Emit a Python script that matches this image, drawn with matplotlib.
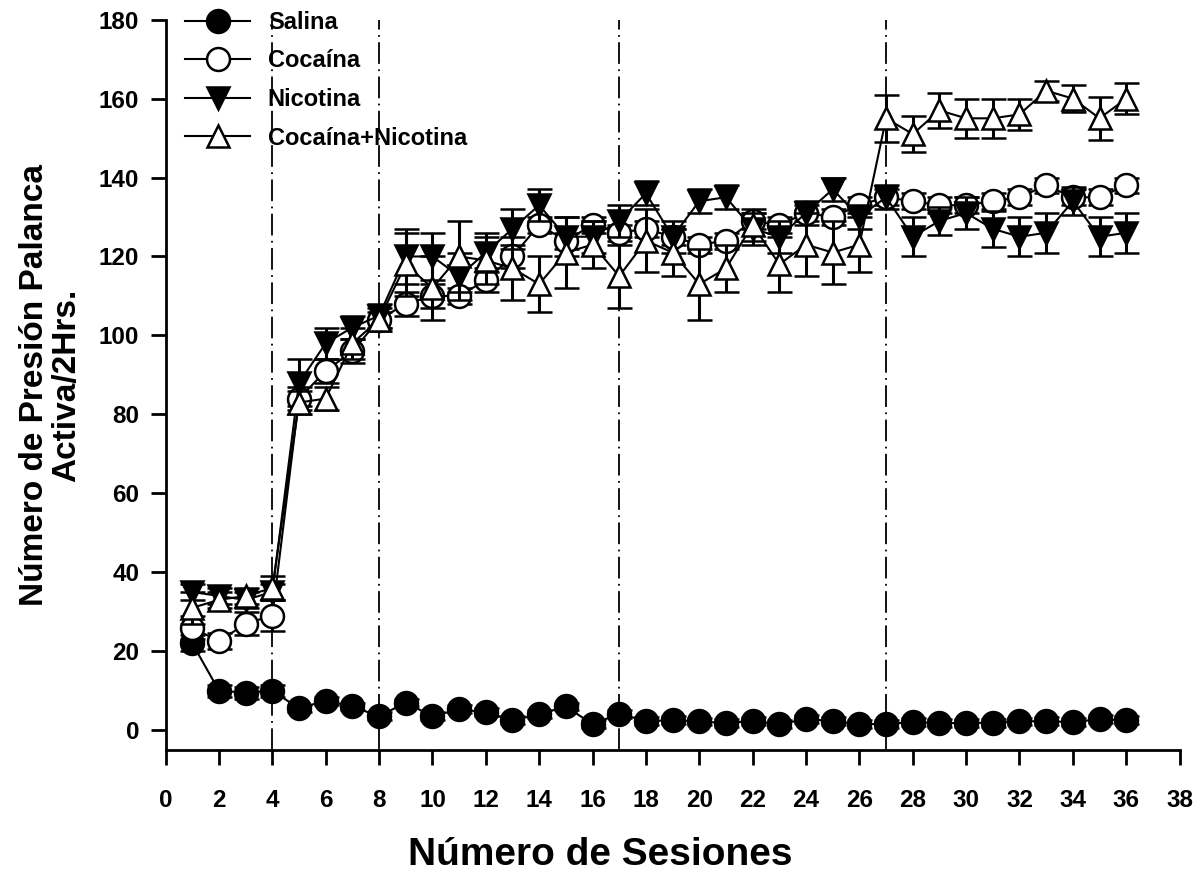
import numpy as np
import matplotlib
matplotlib.use('Agg')
import matplotlib.pyplot as plt
from matplotlib.lines import Line2D

plt.rcParams['font.family'] = ['Liberation Sans', 'DejaVu Sans']
plt.rcParams['font.weight'] = 'bold'

# Sesiones 1..36
sessions = list(range(1, 37))

salina = [22, 10, 9.5, 10, 5.5, 7.5, 6, 3.5, 7, 3.5, 5.3, 4.5, 2.5, 4, 6, 1.5, 4.2, 2.3,
          2.5, 2.2, 1.8, 2.3, 1.5, 2.8, 2.3, 1.5, 1.6, 2, 1.8, 1.8, 1.9, 2.2, 2.3, 2, 2.8, 2.5]
salina_err = [2, 1.5, 1.5, 1.5, 1, 1, 1, 1, 1, 1, 1, 1, 1, 1, 1, 1, 1, 1,
              1, 1, 1, 1, 1, 1, 1, 1, 1, 1, 1, 1, 1, 1, 1, 1, 1, 1]

cocaina = [26, 22.5, 27, 29, 84, 91, 96, 104, 108, 110, 110, 114, 120, 128, 124, 128, 126, 127,
           125, 123, 124, 129, 128, 131, 130, 133, 135, 134, 133, 133, 134, 135, 138, 135, 135, 138]
cocaina_err = [3, 2, 3, 4, 3, 3, 3, 2, 3, 3, 2, 3, 3, 2, 2, 2, 2, 2,
               2, 2, 2, 2, 2, 2, 2, 2, 2, 2, 2, 2, 2, 2, 2, 2, 2, 2]

nicotina = [35, 34, 33, 35, 88, 98, 102, 105, 120, 120, 115, 121, 127, 133, 125, 125, 129, 136,
            125, 134, 135, 127, 125, 131, 137, 130, 135, 125, 129, 131, 127, 125, 126, 134, 125, 126]
nicotina_err = [2, 2, 2, 2, 6, 4, 3, 3, 7, 6, 6, 5, 5, 4, 5, 4, 4, 3,
                4, 3, 3, 4, 4, 3, 3, 3, 3, 5, 3.5, 4, 4.5, 5, 5, 3.5, 5, 5]

coc_nic = [31, 33, 34, 36, 83, 84, 98, 104, 118, 112, 120, 119, 117, 113, 121, 123, 115, 124,
           121, 113, 117, 128, 118, 123, 121, 123, 155, 151, 157, 155, 155, 156, 162, 160, 155, 160]
coc_nic_err = [4, 2, 2, 3, 3, 3, 4, 3, 8, 8, 9, 6, 8, 7, 9, 6, 8, 8,
               6, 9, 6, 4, 7, 8, 8, 7, 6, 4.5, 4.5, 5, 5, 4, 2.5, 3.5, 5.5, 4]

phase_lines = [4, 8, 17, 27]

fig = plt.figure(figsize=(12, 8.92), dpi=100)
ax = fig.add_axes([0.138, 0.159, 0.845, 0.819])

for xv in phase_lines:
    ax.axvline(xv, color='black', linestyle=(0, (12, 3, 1, 3)), linewidth=1.3, zorder=1)

style = dict(color='black', linewidth=1.5, markersize=16.5, markeredgewidth=1.8,
             elinewidth=2.2, capsize=9, capthick=2.5, ecolor='black')

series = [
    (salina, salina_err, 'o', 'black', 'Salina'),
    (cocaina, cocaina_err, 'o', 'white', 'Cocaína'),
    (nicotina, nicotina_err, 'v', 'black', 'Nicotina'),
    (coc_nic, coc_nic_err, '^', 'white', 'Cocaína+Nicotina'),
]

handles = []
for i, (vals, err, mk, fc, name) in enumerate(series):
    ax.errorbar(sessions, vals, yerr=err, marker=mk, markerfacecolor=fc,
                zorder=3 + i, **style)
    handles.append(Line2D([], [], color='black', linewidth=1.5, marker=mk,
                          markerfacecolor=fc, markeredgecolor='black',
                          markersize=16.5, markeredgewidth=1.8, label=name))

ax.set_xlim(0, 38)
ax.set_ylim(-5.07, 180)
ax.set_xticks(range(0, 39, 2))
ax.set_yticks(range(0, 181, 20))

ax.spines['top'].set_visible(False)
ax.spines['right'].set_visible(False)
ax.spines['left'].set_linewidth(2)
ax.spines['bottom'].set_linewidth(2)
ax.tick_params(direction='out', length=11, width=2, labelsize=17.5)
ax.tick_params(axis='x', pad=17)
ax.tick_params(axis='y', pad=8)
for lbl in ax.get_xticklabels() + ax.get_yticklabels():
    lbl.set_fontweight('bold')

fig.text(0.5, 1 - 855 / 892, 'Número de Sesiones', fontsize=28, fontweight='bold',
         ha='center', va='center')
ax.set_ylabel('Número de Presión Palanca\nActiva/2Hrs.', fontsize=24, fontweight='bold',
              labelpad=12, linespacing=1.05)

ax.legend(handles=handles, loc='upper left', bbox_to_anchor=(0.01, 1.025),
          borderaxespad=0, frameon=False, handlelength=2.75, handletextpad=0.75,
          labelspacing=0.66, prop={'weight': 'bold', 'size': 17})

fig.savefig('out.png', dpi=100)
